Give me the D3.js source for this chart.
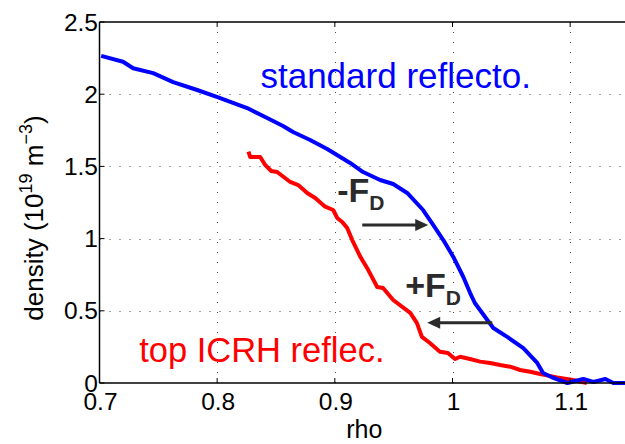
<!DOCTYPE html>
<html><head><meta charset="utf-8">
<script src="https://cdn.jsdelivr.net/npm/d3@7"></script>
<style>html,body{margin:0;padding:0;background:#fff;overflow:hidden}</style>
</head><body>
<svg id="c" width="625" height="444"></svg>
<script>
const xTicks = [0.7, 0.8, 0.9, 1.0, 1.1];
const xTickLabels = ["0.7", "0.8", "0.9", "1", "1.1"];
const yTicks = [0, 0.5, 1, 1.5, 2, 2.5];
const yTickLabels = ["0", "0.5", "1", "1.5", "2", "2.5"];

const blueRho = [0.7014,0.720,0.7286,0.7456,0.7626,0.783,0.8003,0.8255,0.8425,0.856,0.8645,0.879,0.8935,0.913,0.924,0.9385,0.9496,0.9615,0.975,0.9837,0.9922,1.0007,1.0092,1.015,1.019,1.0296,1.0347,1.0465,1.0602,1.072,1.077,1.0857,1.0976,1.1112,1.1197,1.13,1.1367,1.147];
const blueDen = [2.265,2.225,2.18,2.146,2.084,2.029,1.98,1.904,1.835,1.78,1.738,1.683,1.62,1.524,1.461,1.406,1.378,1.316,1.198,1.094,0.99,0.873,0.734,0.623,0.554,0.436,0.381,0.319,0.242,0.139,0.069,0.035,0.0,0.028,0.007,0.028,0.0,0.0];

const redRho = [0.8266,0.8281,0.8366,0.8408,0.8459,0.851,0.8621,0.8689,0.8765,0.8833,0.8918,0.8986,0.902,0.9063,0.9105,0.9148,0.9216,0.9274,0.936,0.941,0.9496,0.9641,0.9697,0.974,0.9808,0.9893,0.9961,1.0022,1.0064,1.0149,1.0235,1.0319,1.0405,1.049,1.0575,1.066,1.0745,1.0888,1.1024,1.1142];
const redDen = [1.602,1.565,1.565,1.51,1.468,1.461,1.392,1.371,1.316,1.281,1.221,1.198,1.143,1.115,1.073,0.99,0.875,0.797,0.665,0.658,0.575,0.485,0.416,0.319,0.277,0.217,0.208,0.166,0.182,0.166,0.148,0.139,0.125,0.113,0.09,0.078,0.062,0.039,0.021,0.0];

const svg = d3.select("#c");
const font = "'Liberation Sans', Arial, Helvetica, sans-serif";
const L = 99.5, R = 629, T = 22, B = 383;
const x = d3.scaleLinear().domain([0.7, 1.15]).range([L, R]);
const y = d3.scaleLinear().domain([0, 2.5]).range([B, T]);

// grid
const g = svg.append("g");
g.selectAll(".vg").data(xTicks.slice(1)).enter().append("line")
  .attr("x1", d => Math.round(x(d)) + 0.5).attr("x2", d => Math.round(x(d)) + 0.5)
  .attr("y1", T).attr("y2", B)
  .attr("stroke", "#444").attr("stroke-width", 1).attr("stroke-dasharray", "1,9");
g.selectAll(".hg").data(yTicks.slice(1, -1)).enter().append("line")
  .attr("y1", d => Math.round(y(d)) + 0.5).attr("y2", d => Math.round(y(d)) + 0.5)
  .attr("x1", L).attr("x2", R)
  .attr("stroke", "#444").attr("stroke-width", 1).attr("stroke-dasharray", "1,9");

// curves
const line = d3.line().x(d => x(d[0])).y(d => y(d[1]));
svg.append("path").datum(redRho.map((r, i) => [r, redDen[i]]))
  .attr("d", line).attr("fill", "none").attr("stroke", "#ff0000")
  .attr("stroke-width", 4).attr("stroke-linejoin", "round");
svg.append("path").datum(blueRho.map((r, i) => [r, blueDen[i]]))
  .attr("d", line).attr("fill", "none").attr("stroke", "#0000ff")
  .attr("stroke-width", 4).attr("stroke-linejoin", "round");

// axes box
const ax = svg.append("g").attr("stroke", "#000").attr("stroke-width", 1.5);
ax.append("line").attr("x1", L).attr("x2", R).attr("y1", B).attr("y2", B);
ax.append("line").attr("x1", L).attr("x2", R).attr("y1", T).attr("y2", T);
ax.append("line").attr("x1", L).attr("x2", L).attr("y1", T).attr("y2", B);
xTicks.forEach(t => {
  ax.append("line").attr("x1", x(t)).attr("x2", x(t)).attr("y1", B).attr("y2", B - 5).attr("stroke-width", 1);
  ax.append("line").attr("x1", x(t)).attr("x2", x(t)).attr("y1", T).attr("y2", T + 5).attr("stroke-width", 1);
});
yTicks.forEach(t => {
  ax.append("line").attr("x1", L).attr("x2", L + 5).attr("y1", y(t)).attr("y2", y(t)).attr("stroke-width", 1);
});

// tick labels
svg.selectAll(".xl").data(xTicks).enter().append("text")
  .attr("x", d => x(d) + 1).attr("y", B + 27)
  .attr("text-anchor", "middle").attr("font-family", font).attr("font-size", 24.5)
  .text((d, i) => xTickLabels[i]);
svg.selectAll(".yl").data(yTicks).enter().append("text")
  .attr("x", L - 1.5).attr("y", d => y(d) + 8.5)
  .attr("text-anchor", "end").attr("font-family", font).attr("font-size", 24.5)
  .text((d, i) => yTickLabels[i]);

// axis titles
svg.append("text").attr("x", x(0.925)).attr("y", 438)
  .attr("text-anchor", "middle").attr("font-family", font).attr("font-size", 25).text("rho");
const yl = svg.append("text").attr("transform", "translate(43,218) rotate(-90)")
  .attr("text-anchor", "middle").attr("font-family", font).attr("font-size", 26);
yl.append("tspan").text("density (10");
yl.append("tspan").attr("dy", -11).attr("font-size", 18).text("19");
yl.append("tspan").attr("dy", 11).text(" m");
yl.append("tspan").attr("dy", -11).attr("font-size", 18).text("\u22123");
yl.append("tspan").attr("dy", 11).text(")");

// annotations
svg.append("text").attr("x", x(0.8368)).attr("y", y(2.043))
  .attr("font-family", font).attr("font-size", 35).attr("fill", "#0000ff").text("standard reflecto.");
svg.append("text").attr("x", x(0.7337)).attr("y", y(0.145))
  .attr("font-family", font).attr("font-size", 34.5).attr("fill", "#ff0000").text("top ICRH reflec.");

const dark = "#2b2b2b";
function fd(sign, rx, dy) {
  const t = svg.append("text").attr("x", x(rx)).attr("y", y(dy))
    .attr("font-family", font).attr("font-weight", "bold").attr("font-size", 34).attr("fill", dark);
  t.append("tspan").text(sign + "F");
  t.append("tspan").attr("dy", 8).attr("font-size", 21).text("D");
}
fd("-", 0.902, 1.253);
fd("+", 0.9598, 0.596);

function arrow(r0, r1, d) {
  const x0 = x(r0), x1 = x(r1), yy = y(d);
  const dir = Math.sign(x1 - x0);
  svg.append("line").attr("x1", x0).attr("x2", x1 - dir * 10).attr("y1", yy).attr("y2", yy)
    .attr("stroke", dark).attr("stroke-width", 3);
  svg.append("path").attr("d", `M${x1},${yy} L${x1 - dir * 13},${yy - 6} L${x1 - dir * 13},${yy + 6} Z`)
    .attr("fill", dark);
}
arrow(0.9233, 0.9794, 1.094);
arrow(1.0338, 0.9785, 0.4176);
</script>
</body></html>
